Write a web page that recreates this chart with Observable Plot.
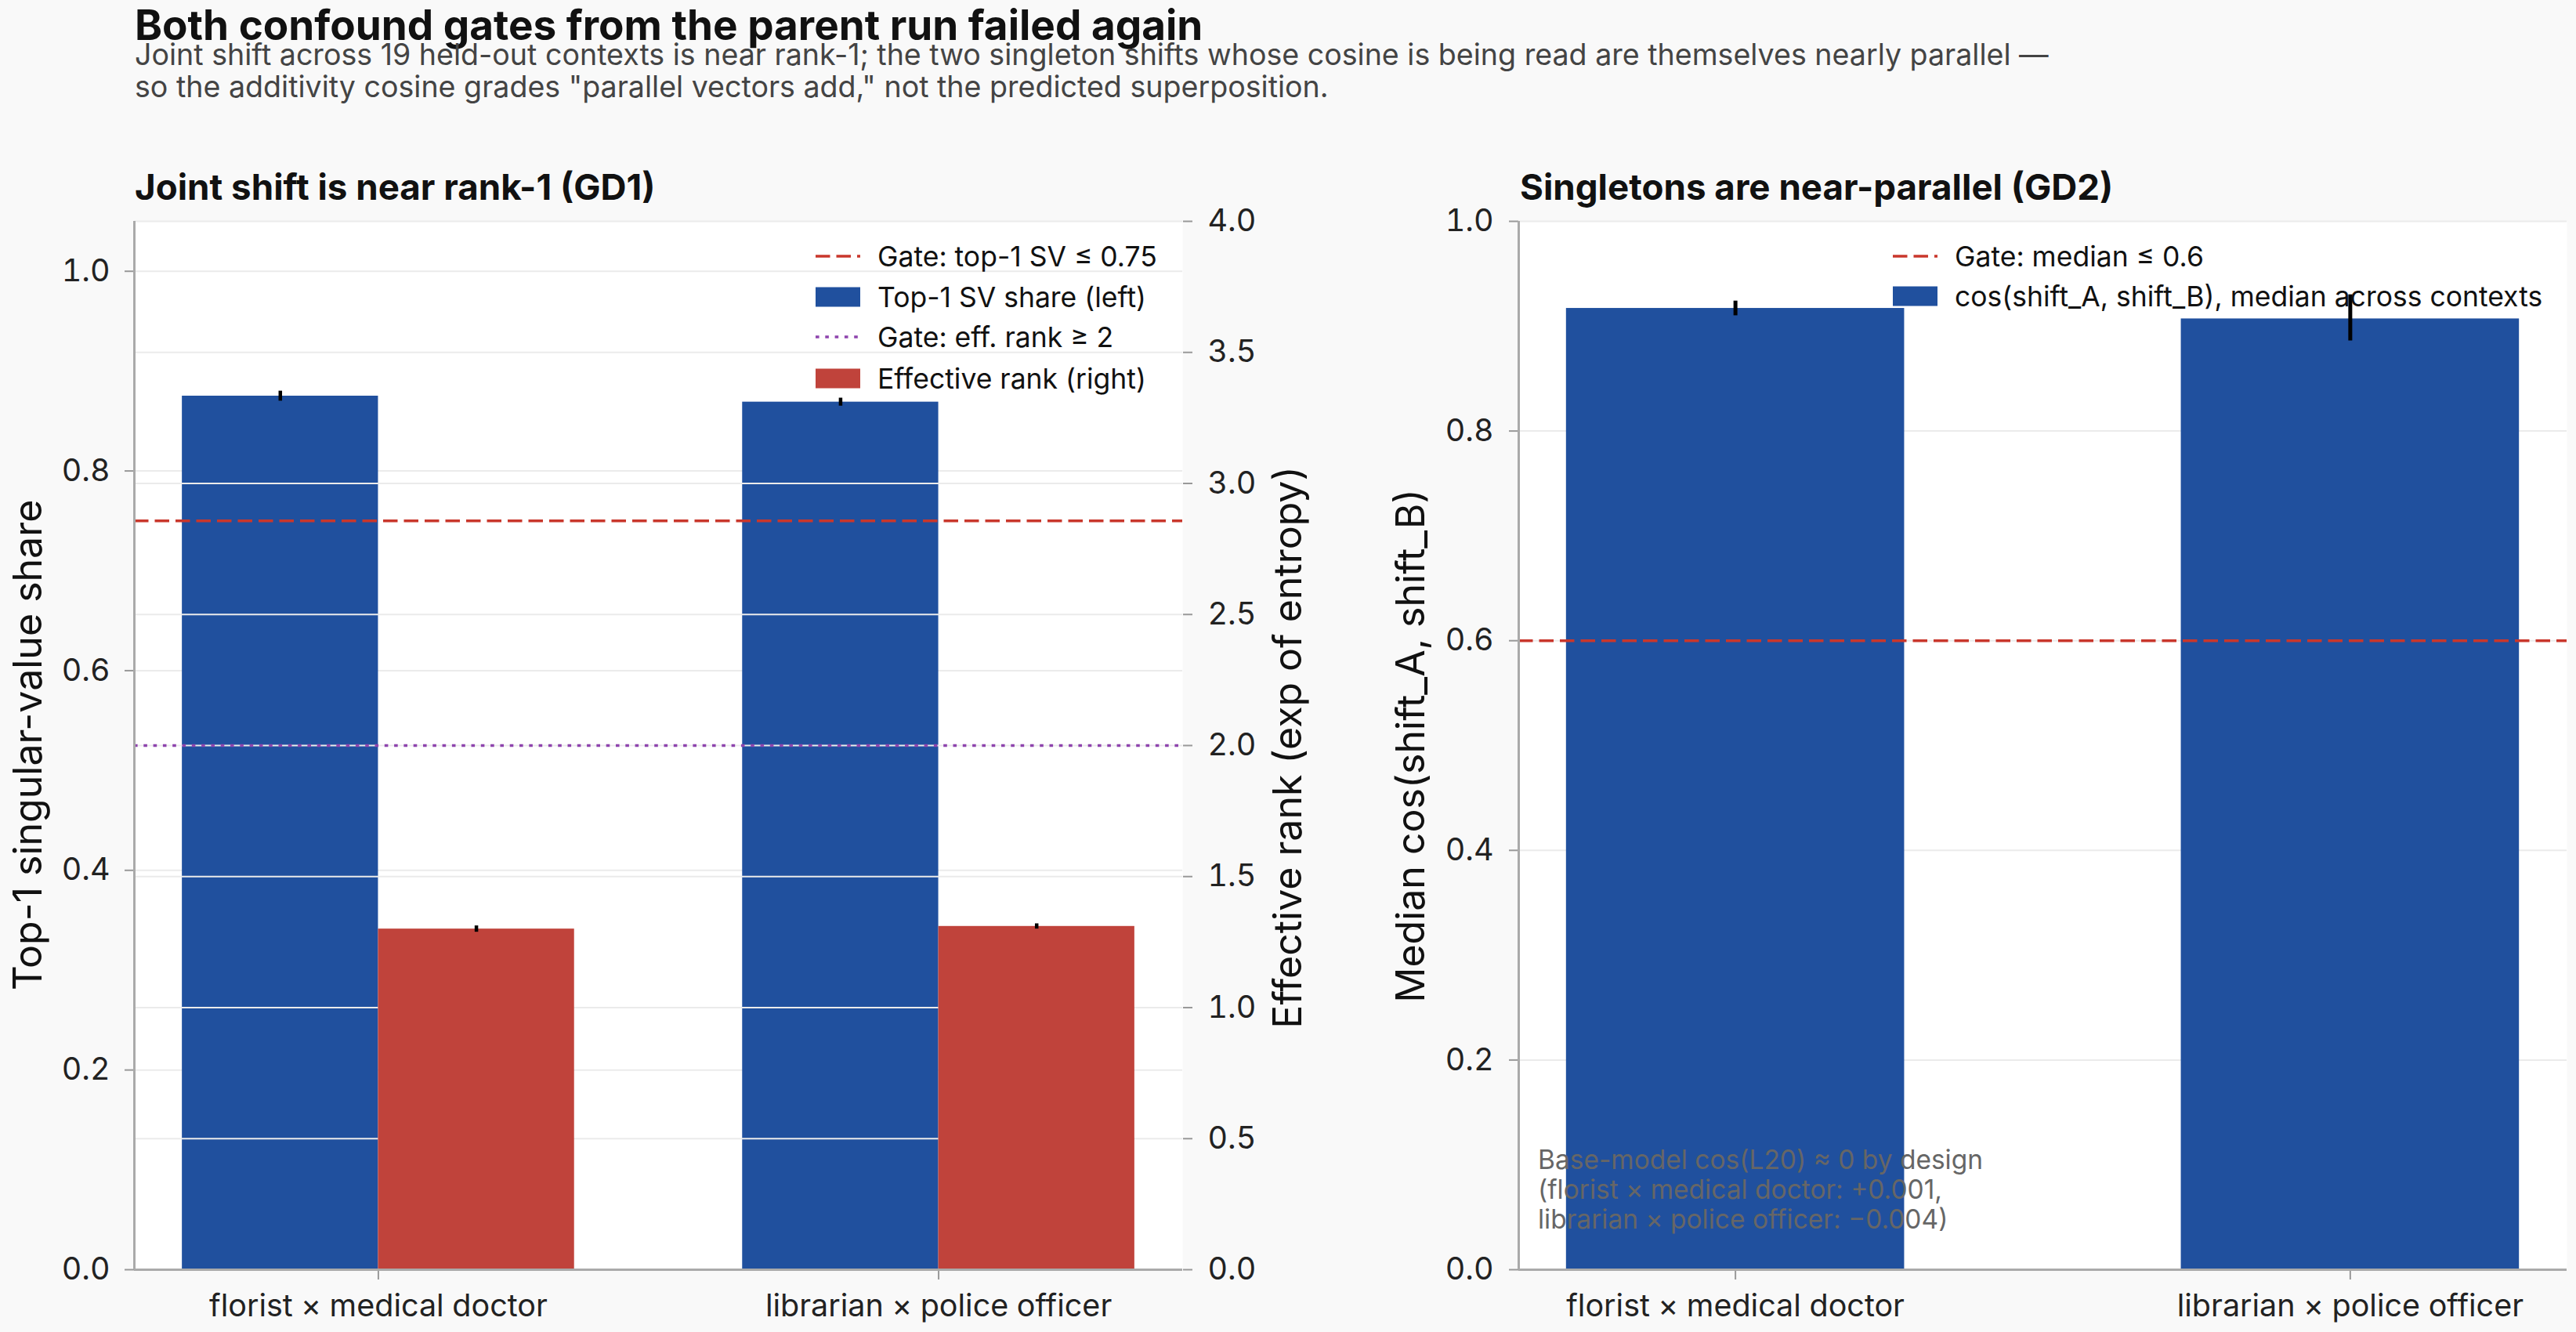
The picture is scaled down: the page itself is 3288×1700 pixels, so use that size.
<!DOCTYPE html>
<html><head><meta charset="utf-8">
<script src="https://cdn.jsdelivr.net/npm/d3@7"></script>
<script src="https://cdn.jsdelivr.net/npm/@observablehq/plot@0.6"></script>
<style>
html,body{margin:0;padding:0;background:#f9f9f9;}
body{width:3288px;height:1700px;position:relative;overflow:hidden;font-family:Inter,"Noto Sans",sans-serif;}
.abs{position:absolute;white-space:nowrap;}
.rot{position:absolute;white-space:nowrap;transform:translate(-50%,-50%) rotate(-90deg);line-height:1.2;color:#111;}
.leg{position:absolute;display:flex;align-items:center;height:44px;white-space:nowrap;color:#111;}
</style></head><body>
<script>
// ---- data ----
const pairs = ["florist × medical doctor", "librarian × police officer"];
const top1Share = [0.875, 0.869];
const top1Err = [0.005, 0.004];
const effRank = [1.30, 1.31];
const effRankErr = [0.012, 0.010];
const cosMedian = [0.917, 0.907];
const cosLow = [0.910, 0.886];
const cosHigh = [0.924, 0.930];
const gateTop1 = [0.75];
const gateEffRank = [2];
const gateCos = [0.6];
const leftTicks = [0, 0.2, 0.4, 0.6, 0.8, 1.0];
const rightTicks = [0, 0.5, 1.0, 1.5, 2.0, 2.5, 3.0, 3.5, 4.0];
const cosTicks = [0, 0.2, 0.4, 0.6, 0.8, 1.0];
const titleText = "Both confound gates from the parent run failed again";
const subtitleLines = [
  "Joint shift across 19 held-out contexts is near rank-1; the two singleton shifts whose cosine is being read are themselves nearly parallel —",
  "so the additivity cosine grades \"parallel vectors add,\" not the predicted superposition."
];
const panelTitles = ["Joint shift is near rank-1 (GD1)", "Singletons are near-parallel (GD2)"];
const axisLabels = ["Top-1 singular-value share", "Effective rank (exp of entropy)", "Median cos(shift_A, shift_B)"];
const legendLeft = ["Gate: top-1 SV ≤ 0.75", "Top-1 SV share (left)", "Gate: eff. rank ≥ 2", "Effective rank (right)"];
const legendRight = ["Gate: median ≤ 0.6", "cos(shift_A, shift_B), median across contexts"];
const noteLines = ["Base-model cos(L20) ≈ 0 by design", "(florist × medical doctor: +0.001,", "librarian × police officer: −0.004)"];

// ---- style ----
const BLUE = "#20509e", RED = "#c0433b", GATE_RED = "#c9372c", PURPLE = "#8e44ad";
const GRID = "#ebebeb", SPINE = "#aaaaaa", TICK = "#999999", TXT = "#222222";
const FONT = "Inter, 'Noto Sans', sans-serif";
const TICKFS = "39.5px";

const rows = pairs.map((p, i) => ({i, pair: p, share: top1Share[i], err: top1Err[i], rank: effRank[i], rerr: effRankErr[i]}));
const rows2 = pairs.map((p, i) => ({i, pair: p, med: cosMedian[i], lo: cosLow[i], hi: cosHigh[i]}));

const H = 1700;
const frameL = {width: 1760, height: H, marginLeft: 171, marginRight: 251, marginTop: 282, marginBottom: 80};
const xDomL = [-0.4355, 1.4355];
const bwL = 0.35;
const styleBase = {background: "transparent", fontFamily: FONT, fontSize: TICKFS, color: TXT, overflow: "visible"};

function place(svg, left) {
  svg.style.position = "absolute"; svg.style.left = left + "px"; svg.style.top = "0px";
  document.body.appendChild(svg);
}

// left panel, primary axis
const leftBase = Plot.plot({
  ...frameL, style: styleBase,
  x: {domain: xDomL, axis: null},
  y: {domain: [0, 1.05], axis: null},
  marks: [
    Plot.frame({fill: "white", stroke: null}),
    Plot.ruleY(leftTicks, {stroke: GRID, strokeWidth: 2}),
    Plot.rectY(rows, {x1: d => d.i - bwL, x2: d => d.i, y1: 0, y2: "share", fill: BLUE}),
    Plot.ruleX(rows, {x: d => d.i - bwL / 2, y1: d => d.share - d.err, y2: d => d.share + d.err, stroke: "black", strokeWidth: 4.5}),
    Plot.ruleY(gateTop1, {stroke: GATE_RED, strokeWidth: 3.5, strokeDasharray: "18.5,8"}),
    Plot.axisY(leftTicks, {anchor: "left", tickSize: 12, tickPadding: 19, tickFormat: d => d.toFixed(1), stroke: TICK, fill: TXT, strokeWidth: 2, label: null}),
    Plot.axisX([0, 1], {anchor: "bottom", tickSize: 13, tickPadding: 18, tickFormat: i => pairs[i], stroke: TICK, fill: TXT, strokeWidth: 2, label: null})
  ]
});
place(leftBase, 0);

// left panel, twin axis
const leftTwin = Plot.plot({
  ...frameL, style: styleBase,
  x: {domain: xDomL, axis: null},
  y: {domain: [0, 4], axis: null},
  marks: [
    Plot.ruleY(rightTicks, {stroke: GRID, strokeWidth: 2}),
    Plot.rectY(rows, {x1: d => d.i, x2: d => d.i + bwL, y1: 0, y2: "rank", fill: RED}),
    Plot.ruleX(rows, {x: d => d.i + bwL / 2, y1: d => d.rank - d.rerr, y2: d => d.rank + d.rerr, stroke: "black", strokeWidth: 4.5}),
    Plot.ruleY(gateEffRank, {stroke: PURPLE, strokeWidth: 3.5, strokeDasharray: "4.6,7.7"}),
    Plot.axisY(rightTicks, {anchor: "right", tickSize: 12, tickPadding: 20, tickFormat: d => d.toFixed(1), stroke: TICK, fill: TXT, strokeWidth: 2, label: null}),
    Plot.ruleY([0], {stroke: SPINE, strokeWidth: 3}),
    Plot.ruleX([xDomL[0]], {stroke: SPINE, strokeWidth: 3})
  ]
});
place(leftTwin, 0);

// right panel
const xDomR = [-0.3525, 1.3525];
const bwR = 0.275;
const rightPanel = Plot.plot({
  width: 1528, height: H, marginLeft: 178, marginRight: 12, marginTop: 282, marginBottom: 80,
  style: styleBase,
  x: {domain: xDomR, axis: null},
  y: {domain: [0, 1], axis: null},
  marks: [
    Plot.frame({fill: "white", stroke: null}),
    Plot.ruleY(cosTicks, {stroke: GRID, strokeWidth: 2}),
    Plot.rectY(rows2, {x1: d => d.i - bwR, x2: d => d.i + bwR, y1: 0, y2: "med", fill: BLUE}),
    Plot.ruleX(rows2, {x: "i", y1: "lo", y2: "hi", stroke: "black", strokeWidth: 5}),
    Plot.ruleY(gateCos, {stroke: GATE_RED, strokeWidth: 3.5, strokeDasharray: "18.5,8"}),
    Plot.axisY(cosTicks, {anchor: "left", tickSize: 12, tickPadding: 20, tickFormat: d => d.toFixed(1), stroke: TICK, fill: TXT, strokeWidth: 2, label: null}),
    Plot.axisX([0, 1], {anchor: "bottom", tickSize: 13, tickPadding: 18, tickFormat: i => pairs[i], stroke: TICK, fill: TXT, strokeWidth: 2, label: null}),
    Plot.ruleY([0], {stroke: SPINE, strokeWidth: 3}),
    Plot.ruleX([xDomR[0]], {stroke: SPINE, strokeWidth: 3})
  ]
});
place(rightPanel, 1760);

// ---- HTML text ----
function addDiv(cls, text, css) {
  const d = document.createElement("div");
  d.className = cls; d.textContent = text;
  Object.assign(d.style, css);
  document.body.appendChild(d);
  return d;
}
addDiv("abs", titleText, {left: "172px", top: "6px", fontSize: "53px", fontWeight: "700", lineHeight: "53px", color: "#111"});
subtitleLines.forEach((t, k) => addDiv("abs", t, {left: "172px", top: (50 + 41 * k) + "px", fontSize: "37.6px", lineHeight: "40px", color: "#444"}));
addDiv("abs", panelTitles[0], {left: "172px", top: "215px", fontSize: "45.7px", fontWeight: "700", lineHeight: "48px", color: "#111"});
addDiv("abs", panelTitles[1], {left: "1940px", top: "215px", fontSize: "45.7px", fontWeight: "700", lineHeight: "48px", color: "#111"});
addDiv("rot", axisLabels[0], {left: "35px", top: "951px", fontSize: "50px"});
addDiv("rot", axisLabels[1], {left: "1643px", top: "954px", fontSize: "50px"});
addDiv("rot", axisLabels[2], {left: "1800px", top: "952px", fontSize: "50px"});
noteLines.forEach((t, k) => addDiv("abs", t, {left: "1963px", top: (1461 + 38 * k) + "px", fontSize: "33.5px", lineHeight: "38px", color: "#666"}));

function swatch(kind, color) {
  const ns = "http://www.w3.org/2000/svg";
  const s = document.createElementNS(ns, "svg");
  s.setAttribute("width", 57); s.setAttribute("height", 26);
  if (kind === "rect") {
    const r = document.createElementNS(ns, "rect");
    r.setAttribute("x", 0); r.setAttribute("y", 0.5); r.setAttribute("width", 57); r.setAttribute("height", 25);
    r.setAttribute("fill", color); s.appendChild(r);
  } else {
    const l = document.createElementNS(ns, "line");
    l.setAttribute("x1", 0); l.setAttribute("x2", 57); l.setAttribute("y1", 13); l.setAttribute("y2", 13);
    l.setAttribute("stroke", color); l.setAttribute("stroke-width", 3.5);
    l.setAttribute("stroke-dasharray", kind === "dash" ? "18.5,8" : "4.6,7.7");
    s.appendChild(l);
  }
  return s;
}
function legendRow(x, yc, kind, color, text) {
  const d = document.createElement("div");
  d.className = "leg";
  Object.assign(d.style, {left: x + "px", top: (yc - 22) + "px", fontSize: "35.5px"});
  d.appendChild(swatch(kind, color));
  const sp = document.createElement("span"); sp.textContent = text; sp.style.marginLeft = "22px";
  d.appendChild(sp);
  document.body.appendChild(d);
}
const legKindsL = [["dash", GATE_RED], ["rect", BLUE], ["dot", PURPLE], ["rect", RED]];
const legYL = [327, 379, 430, 483];
legendLeft.forEach((t, k) => legendRow(1041, legYL[k], legKindsL[k][0], legKindsL[k][1], t));
const legKindsR = [["dash", GATE_RED], ["rect", BLUE]];
const legYR = [327, 378];
legendRight.forEach((t, k) => legendRow(2416, legYR[k], legKindsR[k][0], legKindsR[k][1], t));
</script>
</body></html>
